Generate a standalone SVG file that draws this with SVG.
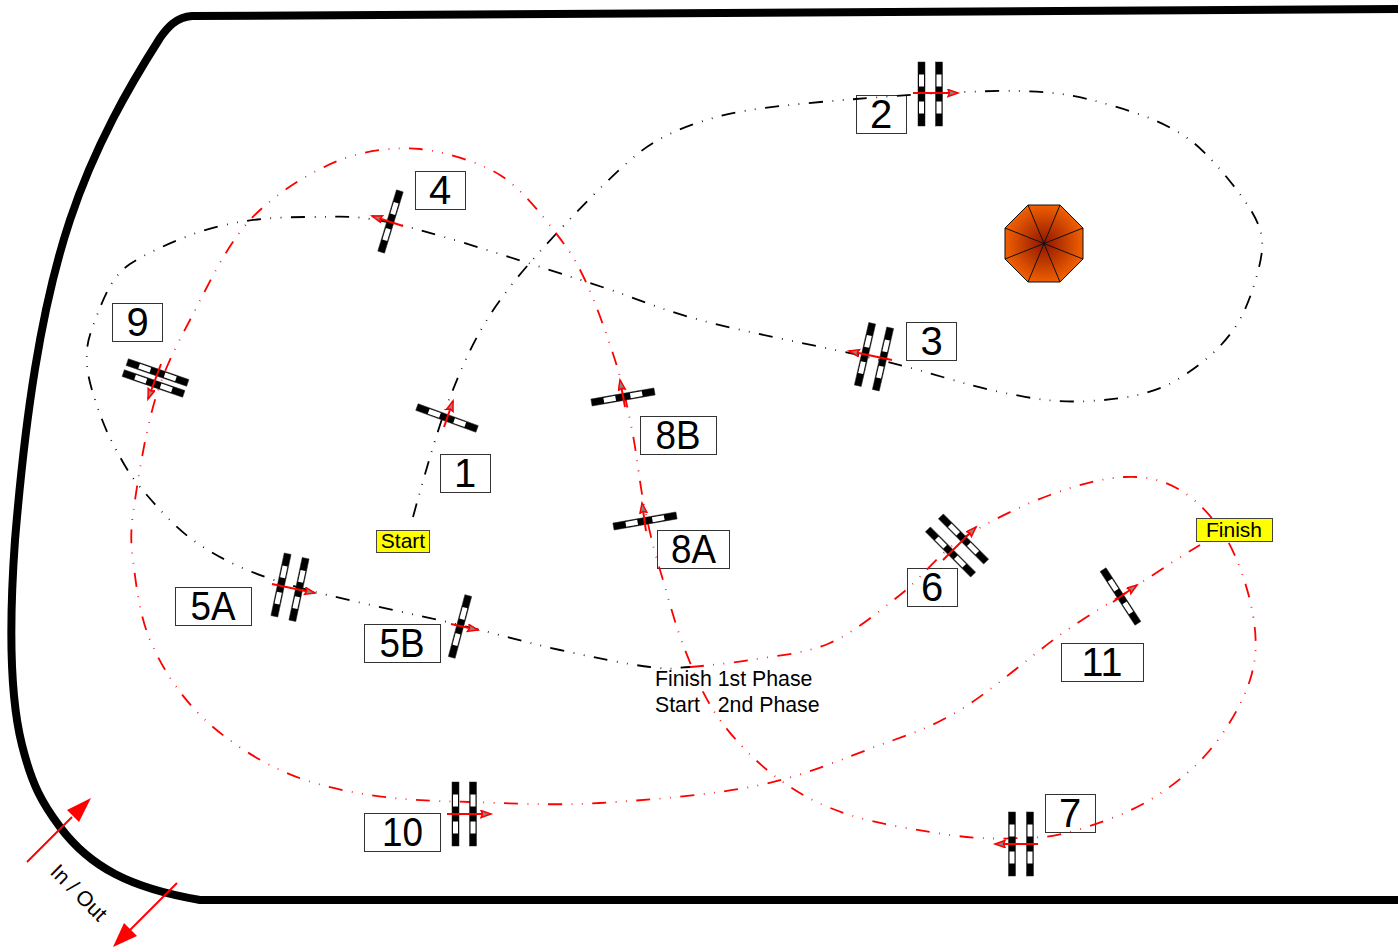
<svg xmlns="http://www.w3.org/2000/svg" width="1398" height="948" viewBox="0 0 1398 948">
<style>
.t{font-family:"Liberation Sans",Arial,sans-serif;fill:#000;white-space:pre}
.lb rect{fill:#fff;stroke:#333;stroke-width:1}
.lb text{font-size:40px;text-anchor:middle}
.y rect{fill:#ff0;stroke:#444;stroke-width:1}
.y text{font-size:21px;text-anchor:middle}
.route{fill:none;stroke-width:1.8;stroke-dasharray:14 9.500 .8 9.500 .8 9.500}
.ar{stroke:#f00;stroke-width:2;fill:none;marker-end:url(#h)}
</style>
<defs>
<radialGradient id="tent" gradientUnits="userSpaceOnUse" cx="1044" cy="243.5" r="40">
<stop offset="0" stop-color="#8f1500"/><stop offset="1" stop-color="#f26100"/>
</radialGradient>
<marker id="h" markerUnits="userSpaceOnUse" markerWidth="14" markerHeight="10" refX="11" refY="4" orient="auto">
<path d="M1 0.5L11 4L1 7.5L2.5 4Z" fill="#888" stroke="#f00" stroke-width="1.5"/>
</marker>
<g id="bar">
<rect x="-3.5" y="-32" width="7" height="64" fill="#000" stroke="#222" stroke-width=".5"/>
<rect x="-2.5" y="-19.5" width="5" height="12" fill="#fff"/>
<rect x="-2.5" y="7.5" width="5" height="12" fill="#fff"/>
</g>
</defs>
<g id="track"><path d="M1398 9L192 16C176 17 167 28 160 38C130 85 95 145 70 220C40 310 25 420 15 540C10 610 8 690 22 745C32 785 42 803 60 827C90 867 130 888 200 900L1398 900" fill="none" stroke="#000" stroke-width="8"/></g>
<g id="tent-node"><path d="M1028 205H1060L1083 228V259L1060 282H1028L1005 259V228Z" fill="url(#tent)" stroke="#111"/><path d="M1028 205L1060 282M1060 205L1028 282M1083 228L1005 259M1083 259L1005 228" stroke="#111" fill="none"/></g>
<g id="label-2" class="lb"><rect x="856.500" y="95.500" width="50" height="38"/><text class="t" x="881" y="128">2</text></g>
<g id="label-3" class="lb"><rect x="906.500" y="322.500" width="50" height="38"/><text class="t" x="931.500" y="355">3</text></g>
<g id="label-4" class="lb"><rect x="415.500" y="171.500" width="50" height="38"/><text class="t" x="440" y="204">4</text></g>
<g id="label-9" class="lb"><rect x="112.500" y="303.500" width="50" height="38"/><text class="t" x="137.500" y="336">9</text></g>
<g id="label-1" class="lb"><rect x="440.500" y="454.500" width="50" height="38"/><text class="t" x="465" y="487">1</text></g>
<g id="label-8B" class="lb"><rect x="640.500" y="416.500" width="76" height="38"/><text class="t" x="678" y="449" textLength="45" lengthAdjust="spacingAndGlyphs">8B</text></g>
<g id="label-8A" class="lb"><rect x="657.500" y="530.500" width="72" height="38"/><text class="t" x="693.500" y="563" textLength="45" lengthAdjust="spacingAndGlyphs">8A</text></g>
<g id="label-5B" class="lb"><rect x="364.500" y="624.500" width="76" height="38"/><text class="t" x="402" y="657" textLength="45" lengthAdjust="spacingAndGlyphs">5B</text></g>
<g id="label-5A" class="lb"><rect x="175.500" y="587.500" width="76" height="38"/><text class="t" x="213" y="620" textLength="45" lengthAdjust="spacingAndGlyphs">5A</text></g>
<g id="label-6" class="lb"><rect x="907.500" y="568.500" width="50" height="38"/><text class="t" x="932" y="601">6</text></g>
<g id="label-11" class="lb"><rect x="1061.500" y="643.500" width="82" height="38"/><text class="t" x="1102" y="676" textLength="41" lengthAdjust="spacingAndGlyphs">11</text></g>
<g id="label-7" class="lb"><rect x="1045.500" y="794.500" width="50" height="38"/><text class="t" x="1070" y="827">7</text></g>
<g id="label-10" class="lb"><rect x="364.500" y="813.500" width="76" height="38"/><text class="t" x="402.500" y="846" textLength="41" lengthAdjust="spacingAndGlyphs">10</text></g>
<g id="start" class="y"><rect x="376.500" y="530.500" width="53" height="22"/><text class="t" x="403" y="548">Start</text></g>
<g id="finish" class="y"><rect x="1196.500" y="518.500" width="76" height="23"/><text class="t" x="1234" y="537">Finish</text></g>
<g id="phase"><text class="t" font-size="21.300" x="655" y="686">Finish 1st Phase</text><text class="t" font-size="21.300" x="655" y="712">Start   2nd Phase</text></g>
<g id="connectors">
<path class="route" stroke="#000" d="M413 517S434 439 447 405S472 343 490 315S530 262 555 235S618 169 640 152S690 124 720 116S806 103 856 99S978 90 1020 91S1082 97 1110 105S1167 123 1190 140S1244 198 1252 212S1263 235 1262 250S1250 305 1236 326S1205 362 1180 378S1125 399 1090 401S1035 399 1000 392S930 372 880 360S748 333 700 320S640 299 590 283S447 236 400 225S345 217 310 217S250 219 220 226S148 252 130 264S104 297 96 318S86 345 87 365S104 427 111 440S127 472 140 487S175 529 200 545S247 572 290 585S415 614 460 625S528 643 560 650S625 664 650 667S670 668 690 667"/>
<path class="route" stroke="#f00" d="M690 667S727 664 750 660S805 654 830 643S878 612 900 595S935 557 960 540S1023 505 1050 495S1103 478 1125 477S1163 480 1180 490S1214 518 1226 538S1249 591 1253 615S1257 658 1250 680S1227 730 1210 750S1173 786 1150 800S1092 826 1070 832S1040 837 1020 838S978 839 950 835S878 824 850 815S802 796 780 780S736 742 720 720S695 675 685 650S667 593 660 570S650 533 645 510S637 455 632 430S623 385 615 360S595 301 585 280S569 250 555 232S522 189 500 175S440 151 420 149S368 149 340 160S275 193 250 220S206 290 190 320S164 370 155 400S139 473 135 500S130 537 133 560S139 614 150 640S178 693 200 715S252 757 280 770S338 790 370 795S432 801 470 802S552 806 600 803S713 795 760 785S847 757 880 745S930 728 960 710S1032 655 1060 635S1107 605 1130 590S1175 560 1200 545"/>
</g>
<g id="gate-2"><use href="#bar" x="921.500" y="94"/><use href="#bar" x="939" y="94"/><path class="ar" d="M913 93H958"/></g>
<g id="gate-3"><use href="#bar" transform="translate(865 354.500) rotate(13)"/><use href="#bar" transform="translate(883 359) rotate(13)"/><path class="ar" d="M892 360L849 351"/></g>
<g id="gate-4"><use href="#bar" transform="translate(390.500 221.500) rotate(17)"/><path class="ar" d="M403 226L372 216"/></g>
<g id="gate-9"><use href="#bar" transform="translate(157.500 372.500) rotate(-71)"/><use href="#bar" transform="translate(153.500 383.500) rotate(-71)"/><path class="ar" d="M161 364L148 399"/></g>
<g id="gate-1"><use href="#bar" transform="translate(447 418) rotate(-70)"/><path class="ar" d="M444 427L453 401"/></g>
<g id="gate-8B"><use href="#bar" transform="translate(623 397) rotate(80)"/><path class="ar" d="M625 407L620 380"/></g>
<g id="gate-8A"><use href="#bar" transform="translate(645 521) rotate(80)"/><path class="ar" d="M646 531L642 503"/></g>
<g id="gate-5A"><use href="#bar" transform="translate(281 585) rotate(12)"/><use href="#bar" transform="translate(299 589.500) rotate(12)"/><path class="ar" d="M272 584L315 593"/></g>
<g id="gate-5B"><use href="#bar" transform="translate(460 626.500) rotate(15)"/><path class="ar" d="M451 624L478 630"/></g>
<g id="gate-6"><use href="#bar" transform="translate(963.500 539) rotate(-45)"/><use href="#bar" transform="translate(950.500 552) rotate(-45)"/><path class="ar" d="M943 560L976 527"/></g>
<g id="gate-11"><use href="#bar" transform="translate(1120.500 596.500) rotate(-33)"/><path class="ar" d="M1113 602L1137 585"/></g>
<g id="gate-7"><use href="#bar" x="1012" y="844"/><use href="#bar" x="1030" y="844"/><path class="ar" d="M1038 844H995"/></g>
<g id="gate-10"><use href="#bar" x="455.500" y="814"/><use href="#bar" x="473" y="814"/><path class="ar" d="M447 814H491"/></g>
<g id="in-out">
<path d="M27 862L72 817" stroke="#f00" stroke-width="2" fill="none"/><path d="M91 798L67 810L79 822Z" fill="#f00"/>
<path d="M177 883L130 930" stroke="#f00" stroke-width="2" fill="none"/><path d="M113 947L124 923L137 936Z" fill="#f00"/>
<text class="t" font-size="21.300" transform="translate(49 873) rotate(45)">In / Out</text>
</g>
</svg>
